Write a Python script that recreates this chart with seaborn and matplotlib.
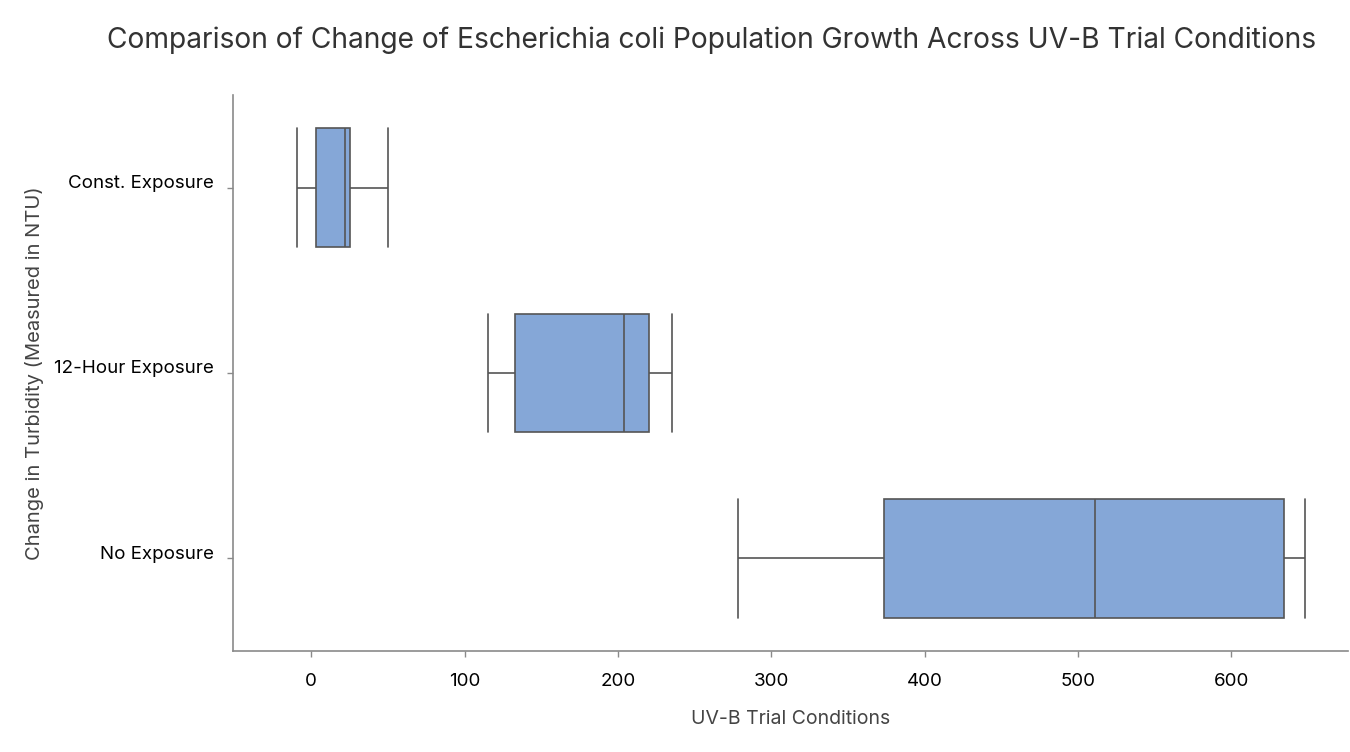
import numpy as np
import pandas as pd
import matplotlib
matplotlib.use("Agg")
import matplotlib.pyplot as plt
import matplotlib.transforms as mtransforms
import seaborn as sns

sns.set_theme(style="white")
plt.rcParams['font.family'] = ['Inter', 'DejaVu Sans']

# change in turbidity (NTU) per trial, five trials per condition
conditions = ['Const. Exposure', '12-Hour Exposure', 'No Exposure']
const_exposure = [-9, 3, 22, 25.5, 50]
half_day_exposure = [115, 133, 204, 220.5, 235]
no_exposure = [278, 373.5, 511, 634.5, 648]

df = pd.DataFrame({
    'condition': np.repeat(conditions, 5),
    'turbidity': const_exposure + half_day_exposure + no_exposure,
})

fig, ax = plt.subplots(figsize=(13.5, 7.52), dpi=100)
fig.subplots_adjust(left=0.1726, right=0.9985, top=0.8737, bottom=0.1343)

sns.boxplot(data=df, x='turbidity', y='condition', order=conditions,
            color='#85A7D7', saturation=1, width=0.64, linecolor='#555555',
            linewidth=1.2, capwidths=0.64, ax=ax)

ax.set_xlim(-51, 676)
ax.set_xticks([0, 100, 200, 300, 400, 500, 600])
sns.despine(ax=ax)
for side in ['left', 'bottom']:
    ax.spines[side].set_color('#8a8a8a')
    ax.spines[side].set_linewidth(1.2)
ax.tick_params(axis='both', which='major', length=4, width=1, color='#8a8a8a',
               labelsize=13.5, labelcolor='black', left=True, bottom=True)
ax.tick_params(axis='x', pad=12)
ax.tick_params(axis='y', pad=10)

# category labels sit a little above their tick marks
shift = mtransforms.ScaledTranslation(0, 0.06, fig.dpi_scale_trans)
for lbl in ax.get_yticklabels():
    lbl.set_transform(lbl.get_transform() + shift)

ax.set_xlabel('UV-B Trial Conditions', fontsize=14, color='#444444', labelpad=14)
ax.set_ylabel('Change in Turbidity (Measured in NTU)', fontsize=14.5, color='#444444', labelpad=7)
fig.text(0.527, 0.946, 'Comparison of Change of Escherichia coli Population Growth Across UV-B Trial Conditions',
         ha='center', va='center', fontsize=20.3, color='#333333')

fig.savefig('out.png', dpi=100)
